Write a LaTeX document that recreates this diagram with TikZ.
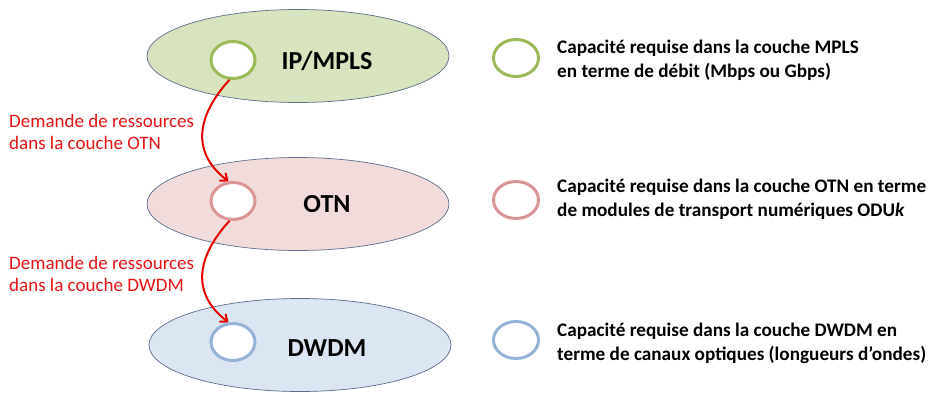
\documentclass[tikz,border=0pt]{standalone}
\usepackage{fontspec}
\setmainfont{Carlito}
\usetikzlibrary{shapes.geometric,arrows.meta}
\definecolor{gfill}{RGB}{215,228,189}
\definecolor{gline}{RGB}{155,187,89}
\definecolor{rfill}{RGB}{242,220,219}
\definecolor{rline}{RGB}{217,150,148}
\definecolor{bfill}{RGB}{220,230,242}
\definecolor{bline}{RGB}{149,179,215}
\definecolor{edge}{RGB}{90,110,140}
\definecolor{redtxt}{RGB}{230,20,20}
\tikzset{
  layerell/.style={ellipse, draw=edge, line width=0.7pt, minimum width=302pt, minimum height=93pt, inner sep=0pt},
  capring/.style={ellipse, line width=3pt, fill=white, minimum width=44pt, minimum height=37pt, inner sep=0pt},
  legring/.style={ellipse, line width=3pt, minimum width=45pt, minimum height=37pt, inner sep=0pt},
  layertitle/.style={font=\fontsize{26}{30}\selectfont\bfseries},
  legtext/.style={anchor=west, align=left, inner sep=0pt, font=\fontsize{19.2}{24}\selectfont\bfseries},
  reqtext/.style={anchor=west, align=left, inner sep=0pt, text=redtxt, font=\fontsize{19}{21.5}\selectfont},
  flow/.style={draw=red!90!black, line width=2pt, -{Straight Barb[length=6pt,width=10pt]}}
}
\begin{document}
\begin{tikzpicture}[x=1pt,y=-1pt]
\useasboundingbox (0,0) rectangle (930,392);
% layers
\node[layerell, fill=gfill] (L1) at (298,56) {};
\node[layerell, fill=rfill] (L2) at (298,204) {};
\node[layerell, fill=bfill] (L3) at (300,345) {};
\node[capring, draw=gline] (c1) at (233,60) {};
\node[capring, draw=rline] (c2) at (233,201) {};
\node[capring, draw=bline] (c3) at (233,342) {};
\node[layertitle] (t1) at (327,61) {IP/MPLS};
\node[layertitle] (t2) at (327,204) {OTN};
\node[layertitle] (t3) at (327,348) {DWDM};
% arrows
\draw[flow] (c1.-100) .. controls (200,112) and (188,150) .. (c2.103);
\draw[flow] (c2.-100) .. controls (200,253) and (188,291) .. (c3.103);
% request labels
\node[reqtext] (r1) at (9,132) {Demande de ressources\\dans la couche OTN};
\node[reqtext] (r2) at (9,274) {Demande de ressources\\dans la couche DWDM};
% legend
\node[legring, draw=gline] (g1) at (516,58) {};
\node[legring, draw=rline] (g2) at (516,200) {};
\node[legring, draw=bline] (g3) at (516,340) {};
\node[legtext] (e1) at (557,60) {Capacité requise dans la couche MPLS\\en terme de débit (Mbps ou Gbps)};
\node[legtext] (e2) at (557,199) {Capacité requise dans la couche OTN en terme\\de modules de transport numériques ODU\textit{k}};
\node[legtext] (e3) at (557,343) {Capacité requise dans la couche DWDM en\\terme de canaux optiques (longueurs d’ondes)};
\end{tikzpicture}
\end{document}
